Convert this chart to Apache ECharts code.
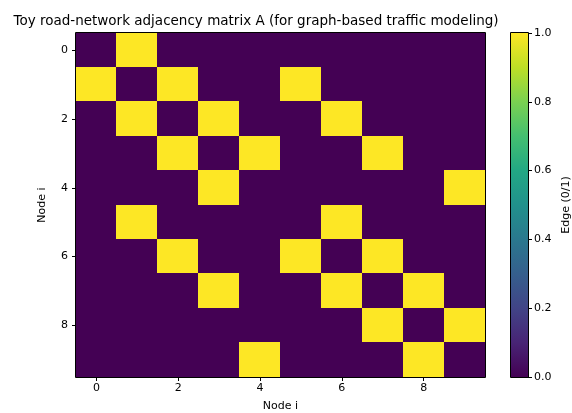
<!DOCTYPE html>
<html>
<head>
<meta charset="utf-8">
<script src="https://cdn.jsdelivr.net/npm/echarts@6/dist/echarts.min.js"></script>
<style>html,body{margin:0;padding:0;background:#fff;}#c{width:572px;height:413px;}</style>
</head>
<body>
<div id="c"></div>
<script>
const titleText = 'Toy road-network adjacency matrix A (for graph-based traffic modeling)';
const nodes = ['0','1','2','3','4','5','6','7','8','9'];
const adjacency = [
  [0,1,0,0,0,0,0,0,0,0],
  [1,0,1,0,0,1,0,0,0,0],
  [0,1,0,1,0,0,1,0,0,0],
  [0,0,1,0,1,0,0,1,0,0],
  [0,0,0,1,0,0,0,0,0,1],
  [0,1,0,0,0,0,1,0,0,0],
  [0,0,1,0,0,1,0,1,0,0],
  [0,0,0,1,0,0,1,0,1,0],
  [0,0,0,0,0,0,0,1,0,1],
  [0,0,0,0,1,0,0,0,1,0]
];
const colorbarTicks = [0, 0.2, 0.4, 0.6, 0.8, 1.0];
const viridis = ['#440154','#482475','#414487','#355f8d','#2a788e','#21918c','#22a884','#44bf70','#7ad151','#bddf26','#fde725'];

const heatData = [];
adjacency.forEach((row, i) => row.forEach((v, j) => heatData.push([j, i, v])));

const FONT = 'DejaVu Sans';
const chart = echarts.init(document.getElementById('c'), null, {renderer: 'canvas'});
const G = {left: 76, top: 33, width: 409, height: 344};
const CB = {left: 511, top: 33, width: 17, height: 344};

function renderCell(params, api) {
  const c = api.coord([api.value(0), api.value(1)]);
  const s = api.size([1, 1]);
  const x0 = Math.floor(c[0] - s[0] / 2), x1 = Math.ceil(c[0] + s[0] / 2);
  const y0 = Math.floor(c[1] - s[1] / 2), y1 = Math.ceil(c[1] + s[1] / 2);
  return {
    type: 'rect',
    shape: {x: x0, y: y0, width: x1 - x0, height: y1 - y0},
    style: {fill: api.visual('color')}
  };
}

chart.setOption({
  animation: false,
  backgroundColor: '#fff',
  textStyle: {fontFamily: FONT},
  title: {
    text: titleText, left: 251, top: 9, textAlign: 'center',
    textStyle: {fontFamily: FONT, fontSize: 13.5, fontWeight: 'normal', color: '#000'}
  },
  grid: [
    {left: G.left, top: G.top, width: G.width, height: G.height, containLabel: false, outerBoundsMode: 'none'},
    {left: CB.left, top: CB.top, width: CB.width, height: CB.height, containLabel: false, outerBoundsMode: 'none'}
  ],
  xAxis: [
    {
      type: 'category', gridIndex: 0, data: nodes,
      axisLine: {show: false},
      axisTick: {show: true, alignWithLabel: true, interval: 1, length: 4, lineStyle: {color: '#000'}},
      axisLabel: {interval: 1, margin: 6, fontFamily: FONT, fontSize: 11, color: '#000'},
      splitLine: {show: false},
      name: 'Node i', nameLocation: 'middle', nameGap: 24,
      nameTextStyle: {fontFamily: FONT, fontSize: 11, color: '#000'}
    },
    {type: 'category', gridIndex: 1, data: ['cb'], show: false}
  ],
  yAxis: [
    {
      type: 'category', gridIndex: 0, data: nodes, inverse: true,
      axisLine: {show: false},
      axisTick: {show: true, alignWithLabel: true, interval: 1, length: 4, lineStyle: {color: '#000'}},
      axisLabel: {interval: 1, margin: 8, fontFamily: FONT, fontSize: 11, color: '#000'},
      splitLine: {show: false},
      name: 'Node i', nameLocation: 'middle', nameGap: 28, nameRotate: 90,
      nameTextStyle: {fontFamily: FONT, fontSize: 11, color: '#000'}
    },
    {
      type: 'value', gridIndex: 1, min: 0, max: 1, interval: 0.2, position: 'right',
      axisLine: {show: false},
      axisTick: {show: true, length: 4, lineStyle: {color: '#000'}},
      axisLabel: {margin: 6, fontFamily: FONT, fontSize: 11, color: '#000', formatter: v => v.toFixed(1)},
      splitLine: {show: false},
      name: 'Edge (0/1)', nameLocation: 'middle', nameGap: 33, nameRotate: 90,
      nameTextStyle: {fontFamily: FONT, fontSize: 11, color: '#000'}
    }
  ],
  visualMap: {
    type: 'continuous', show: false, min: 0, max: 1, seriesIndex: 0, dimension: 2,
    inRange: {color: viridis}
  },
  series: [
    {
      type: 'custom', xAxisIndex: 0, yAxisIndex: 0, data: heatData,
      renderItem: renderCell, silent: true,
      encode: {x: 0, y: 1}
    },
    {
      type: 'bar', xAxisIndex: 1, yAxisIndex: 1, data: [colorbarTicks[colorbarTicks.length - 1]],
      barWidth: '100%', silent: true,
      itemStyle: {
        color: {type: 'linear', x: 0, y: 1, x2: 0, y2: 0,
          colorStops: viridis.map((c, k) => ({offset: k / (viridis.length - 1), color: c}))}
      }
    }
  ],
  graphic: [
    {type: 'rect', z: 100, silent: true,
      shape: {x: G.left - 0.5, y: G.top - 0.5, width: G.width + 1, height: G.height + 1},
      style: {fill: null, stroke: '#000', lineWidth: 1}},
    {type: 'rect', z: 100, silent: true,
      shape: {x: CB.left - 0.5, y: CB.top - 0.5, width: CB.width + 1, height: CB.height + 1},
      style: {fill: null, stroke: '#000', lineWidth: 1}}
  ]
});
</script>
</body>
</html>
